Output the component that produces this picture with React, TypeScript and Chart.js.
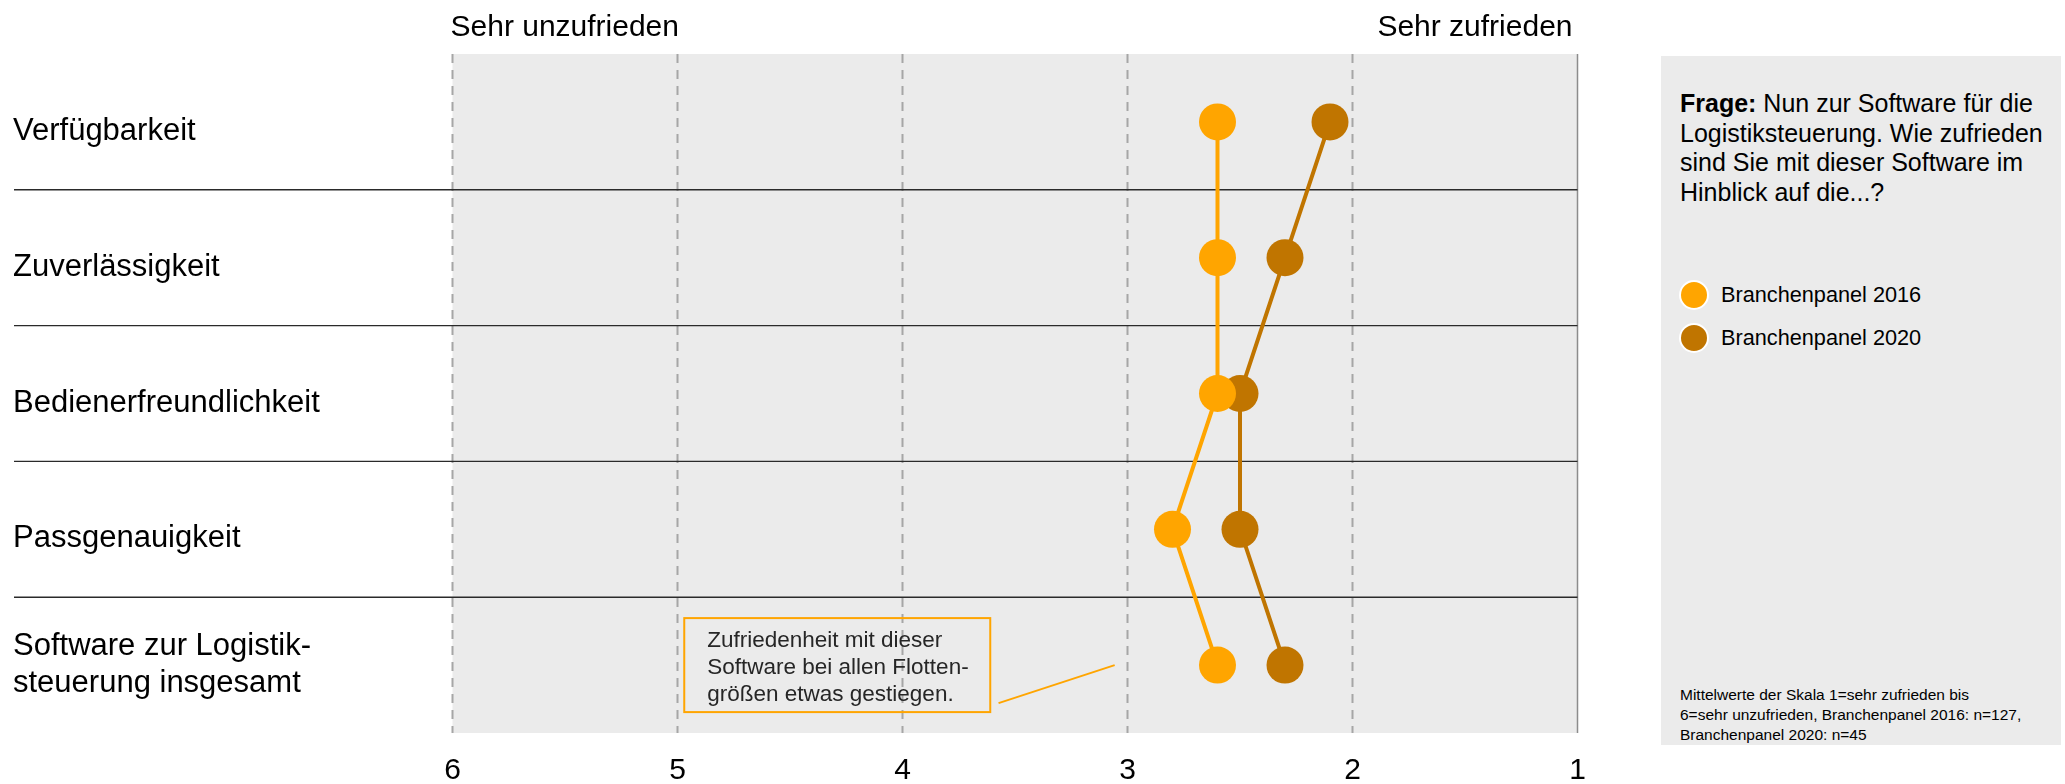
import React, { useEffect, useRef } from "react";
import { Chart, registerables } from "chart.js";

Chart.register(...registerables);

const FONT = '"Liberation Sans", Arial, Helvetica, sans-serif';

// ---------- data ----------
const categories: (string | string[])[] = [
  "Verfügbarkeit",
  "Zuverlässigkeit",
  "Bedienerfreundlichkeit",
  "Passgenauigkeit",
  ["Software zur Logistik-", "steuerung insgesamt"],
];
const panel2016 = [2.6, 2.6, 2.6, 2.8, 2.6];
const panel2020 = [2.1, 2.3, 2.5, 2.5, 2.3];
const seriesLabels = ["Branchenpanel 2016", "Branchenpanel 2020"];
const seriesColors = ["#FFA500", "#C07500"];
const scaleTicks = [6, 5, 4, 3, 2, 1];
const scaleEndLabels = ["Sehr unzufrieden", "Sehr zufrieden"];
const questionBold = "Frage:";
const questionLines = [
  " Nun zur Software für die",
  "Logistiksteuerung. Wie zufrieden",
  "sind Sie mit dieser Software im",
  "Hinblick auf die...?",
];
const noteLines = [
  "Zufriedenheit mit dieser",
  "Software bei allen Flotten-",
  "größen etwas gestiegen.",
];
const footnoteLines = [
  "Mittelwerte der Skala 1=sehr zufrieden bis",
  "6=sehr unzufrieden, Branchenpanel 2016: n=127,",
  "Branchenpanel 2020: n=45",
];

// ---------- plugin for background, grid, separators, labels, annotation ----------
const decorPlugin = {
  id: "decor",
  beforeDatasetsDraw(chart: any) {
    const { ctx, chartArea: a, scales } = chart;
    const x = scales.x;
    const y = scales.y;
    ctx.save();
    ctx.fillStyle = "#EBEBEB";
    ctx.fillRect(a.left, a.top, a.right - a.left, a.bottom - a.top);

    ctx.strokeStyle = "#A6A6A6";
    ctx.lineWidth = 2;
    ctx.setLineDash([9, 7]);
    for (const v of scaleTicks) {
      if (v === 1) continue;
      const px = x.getPixelForValue(v);
      ctx.beginPath();
      ctx.moveTo(px, a.top);
      ctx.lineTo(px, a.bottom);
      ctx.stroke();
    }
    ctx.setLineDash([]);
    const p1 = x.getPixelForValue(1);
    ctx.strokeStyle = "#8C8C8C";
    ctx.lineWidth = 1.5;
    ctx.beginPath();
    ctx.moveTo(p1, a.top);
    ctx.lineTo(p1, a.bottom);
    ctx.stroke();

    const step = y.getPixelForValue(1) - y.getPixelForValue(0);
    ctx.strokeStyle = "#2A2A2A";
    ctx.lineWidth = 1.4;
    for (let i = 0; i < categories.length - 1; i++) {
      const py = y.getPixelForValue(i) + step / 2;
      ctx.beginPath();
      ctx.moveTo(14, py);
      ctx.lineTo(p1, py);
      ctx.stroke();
    }

    const yc = y.getPixelForValue(categories.length - 1);
    const bx0 = x.getPixelForValue(4.97);
    const bx1 = x.getPixelForValue(3.61);
    ctx.strokeStyle = "#FFA500";
    ctx.lineWidth = 2;
    ctx.strokeRect(bx0, yc - 47, bx1 - bx0, 94);
    ctx.beginPath();
    ctx.moveTo(x.getPixelForValue(3.573), yc + 38);
    ctx.lineTo(x.getPixelForValue(3.057), yc);
    ctx.stroke();
    ctx.fillStyle = "#262626";
    ctx.font = `22.5px ${FONT}`;
    ctx.textAlign = "left";
    ctx.textBaseline = "alphabetic";
    noteLines.forEach((t, i) => {
      ctx.fillText(t, bx0 + 23, yc - 18 + i * 27);
    });
    ctx.restore();
  },
  afterDraw(chart: any) {
    const { ctx, scales } = chart;
    const x = scales.x;
    const y = scales.y;
    ctx.save();
    ctx.fillStyle = "#000";
    ctx.textBaseline = "alphabetic";
    ctx.font = `30px ${FONT}`;
    ctx.textAlign = "left";
    ctx.fillText(scaleEndLabels[0], x.getPixelForValue(6) - 2, 36);
    ctx.textAlign = "right";
    ctx.fillText(scaleEndLabels[1], x.getPixelForValue(1) - 5, 36);
    ctx.font = `31px ${FONT}`;
    ctx.textAlign = "left";
    categories.forEach((c, i) => {
      const yc = y.getPixelForValue(i);
      if (Array.isArray(c)) {
        c.forEach((line, j) => {
          ctx.fillText(line, 13, yc - 10 + j * 36.7);
        });
      } else {
        ctx.fillText(c, 13, yc + 18);
      }
    });
    ctx.restore();
  },
};

export default function App() {
  const canvasRef = useRef<HTMLCanvasElement | null>(null);

  useEffect(() => {
    const canvas = canvasRef.current;
    if (!canvas) return;
    const chart = new Chart(canvas, {
      type: "line",
      data: {
        labels: categories as any,
        datasets: [
          {
            label: seriesLabels[0],
            data: panel2016,
            borderColor: seriesColors[0],
            backgroundColor: seriesColors[0],
            pointBackgroundColor: seriesColors[0],
            pointBorderColor: seriesColors[0],
            pointBorderWidth: 0,
            pointRadius: 18.5,
            pointHoverRadius: 18.5,
            borderWidth: 4,
            tension: 0,
            fill: false,
            clip: false as any,
          },
          {
            label: seriesLabels[1],
            data: panel2020,
            borderColor: seriesColors[1],
            backgroundColor: seriesColors[1],
            pointBackgroundColor: seriesColors[1],
            pointBorderColor: seriesColors[1],
            pointBorderWidth: 0,
            pointRadius: 18.5,
            pointHoverRadius: 18.5,
            borderWidth: 4,
            tension: 0,
            fill: false,
            clip: false as any,
          },
        ],
      },
      options: {
        indexAxis: "y",
        responsive: false,
        animation: false,
        devicePixelRatio: 1,
        layout: { padding: { left: 13, top: 54, right: 2065 - 1577.5, bottom: 0 } },
        plugins: {
          legend: { display: false },
          tooltip: { enabled: false },
        },
        events: [],
        scales: {
          x: {
            type: "linear",
            position: "bottom",
            min: 1,
            max: 6,
            reverse: true,
            grid: { display: false, drawTicks: false },
            border: { display: false },
            ticks: {
              stepSize: 1,
              color: "#000",
              padding: 20,
              font: { family: FONT, size: 30 },
              callback: (v: any) => String(v),
            },
            afterFit: (s: any) => {
              s.height = 51;
            },
          },
          y: {
            type: "category",
            offset: true,
            grid: { display: false, drawTicks: false },
            border: { display: false },
            ticks: { display: false },
            afterFit: (s: any) => {
              s.width = 439.5;
            },
          },
        },
      } as any,
      plugins: [decorPlugin],
    });
    return () => chart.destroy();
  }, []);

  const legendItem = (i: number, top: number) => (
    <div
      key={i}
      style={{
        position: "absolute",
        left: 18,
        top,
        height: 30,
        display: "flex",
        alignItems: "center",
        whiteSpace: "nowrap",
      }}
    >
      <div
        style={{
          width: 26,
          height: 26,
          borderRadius: "50%",
          background: seriesColors[i],
          border: "2px solid #fff",
          boxSizing: "content-box",
        }}
      />
      <span style={{ marginLeft: 12, fontSize: 21.7, color: "#000" }}>{seriesLabels[i]}</span>
    </div>
  );

  return (
    <div
      style={{
        position: "fixed",
        left: 0,
        top: 0,
        width: 2065,
        height: 784,
        background: "#fff",
        fontFamily: FONT,
        overflow: "hidden",
      }}
    >
      <canvas ref={canvasRef} width={2065} height={784} style={{ display: "block" }} />
      <div
        style={{
          position: "absolute",
          left: 1661,
          top: 56,
          width: 400,
          height: 689,
          background: "#EBEBEB",
        }}
      >
        <div
          style={{
            position: "absolute",
            left: 19,
            top: 33,
            fontSize: 25,
            lineHeight: "29.5px",
            color: "#000",
            whiteSpace: "nowrap",
          }}
        >
          <b>{questionBold}</b>
          {questionLines[0]}
          {questionLines.slice(1).map((l, i) => (
            <React.Fragment key={i}>
              <br />
              {l}
            </React.Fragment>
          ))}
        </div>
        {legendItem(0, 224)}
        {legendItem(1, 267)}
        <div
          style={{
            position: "absolute",
            left: 19,
            top: 629,
            fontSize: 15.5,
            lineHeight: "20px",
            color: "#000",
            whiteSpace: "nowrap",
          }}
        >
          {footnoteLines.map((l, i) => (
            <div key={i}>{l}</div>
          ))}
        </div>
      </div>
    </div>
  );
}
